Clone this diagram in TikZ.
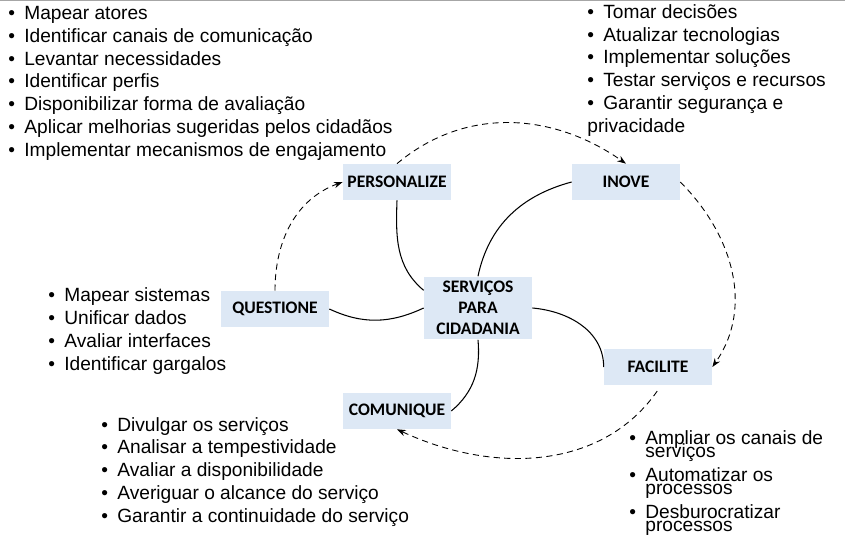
\documentclass[tikz,border=0pt]{standalone}
\usepackage{fontspec}
\setmainfont{Liberation Sans}
\newfontfamily\boxfont{Carlito}
\usepackage{xcolor}
\usetikzlibrary{positioning}
\usetikzlibrary{arrows.meta}
\definecolor{caixa}{RGB}{221,232,245}
\newcommand{\itm}{\makebox[0.32cm][l]{\textbullet}}

\begin{document}
\begin{tikzpicture}[x=0.02cm,y=0.02cm,node distance=4.58cm,on grid,
    >={Stealth[length=5pt,width=3.6pt]},
    etapa/.style={fill=caixa,minimum width=2.16cm,minimum height=0.72cm,inner sep=1pt,font=\boxfont\bfseries\fontsize{10}{12}\selectfont},
    lista/.style={anchor=base west,align=left,inner sep=0pt,font=\fontsize{10.9}{13}\selectfont},
    ciclo/.style={->,dash pattern=on 3.5pt off 2.5pt,line width=0.5pt},
    elo/.style={line width=0.6pt}]
        \useasboundingbox (0,0) rectangle (845,-540);
        \draw[black!35,line width=0.6pt] (0,-0.5) -- (845,-0.5);

        \node[etapa,minimum height=1.26cm,align=center] (srv) at (478,-308) {SERVIÇOS\\PARA\\CIDADANIA};
        \node[etapa] (pers) at (397,-182) {PERSONALIZE};
        \node[etapa] (inove) [right=of pers] {INOVE};
        \node[etapa] (com) [below=of pers] {COMUNIQUE};
        \node[etapa] (fac) at (658,-367) {FACILITE};
        \node[etapa] (quest) at (275,-309) {QUESTIONE};

        % the base of each list is its last line
        \node[lista] (lpers) at (8,-156.5) {\itm Mapear atores\\
          \itm Identificar canais de comunicação\\
          \itm Levantar necessidades\\
          \itm Identificar perfis\\
          \itm Disponibilizar forma de avaliação\\
          \itm Aplicar melhorias sugeridas pelos cidadãos\\
          \itm Implementar mecanismos de engajamento};
        \node[lista] (linove) at (587,-132.5) {\itm Tomar decisões\\
          \itm Atualizar tecnologias\\
          \itm Implementar soluções\\
          \itm Testar serviços e recursos\\
          \itm Garantir segurança e\\
          privacidade};
        \node[lista] (lquest) at (48,-370.5) {\itm Mapear sistemas\\
          \itm Unificar dados\\
          \itm Avaliar interfaces\\
          \itm Identificar gargalos};
        \node[lista] (lcom) at (101,-522.5) {\itm Divulgar os serviços\\
          \itm Analisar a tempestividade\\
          \itm Avaliar a disponibilidade\\
          \itm Averiguar o alcance do serviço\\
          \itm Garantir a continuidade do serviço};
        \node[lista] (lfac) at (629,-531) {\itm Ampliar os canais de\\[-6pt]
          \hspace*{0.32cm}serviços\\[1pt]
          \itm Automatizar os\\[-6pt]
          \hspace*{0.32cm}processos\\[1pt]
          \itm Desburocratizar\\[-6pt]
          \hspace*{0.32cm}processos};

        \path [elo]
          (pers.south) edge [out=-92,in=140] (srv.162)
          (inove.west) edge [out=195,in=78] (srv.north)
          (srv.east) edge [out=-5,in=90] (fac.west)
          (srv.south) edge [out=-85,in=40] (com.east)
          (quest.east) edge [out=-25,in=205] (srv.west);

        \path [ciclo]
          (quest.north) edge [out=90,in=200] (pers.west)
          (pers.north) edge [out=40,in=145] (inove.north)
          (inove.east) edge [out=-45,in=55] (fac.east)
          (fac.-80) edge [out=-125,in=-25,shorten <=4pt] (com.south);

      \end{tikzpicture}
\end{document}
